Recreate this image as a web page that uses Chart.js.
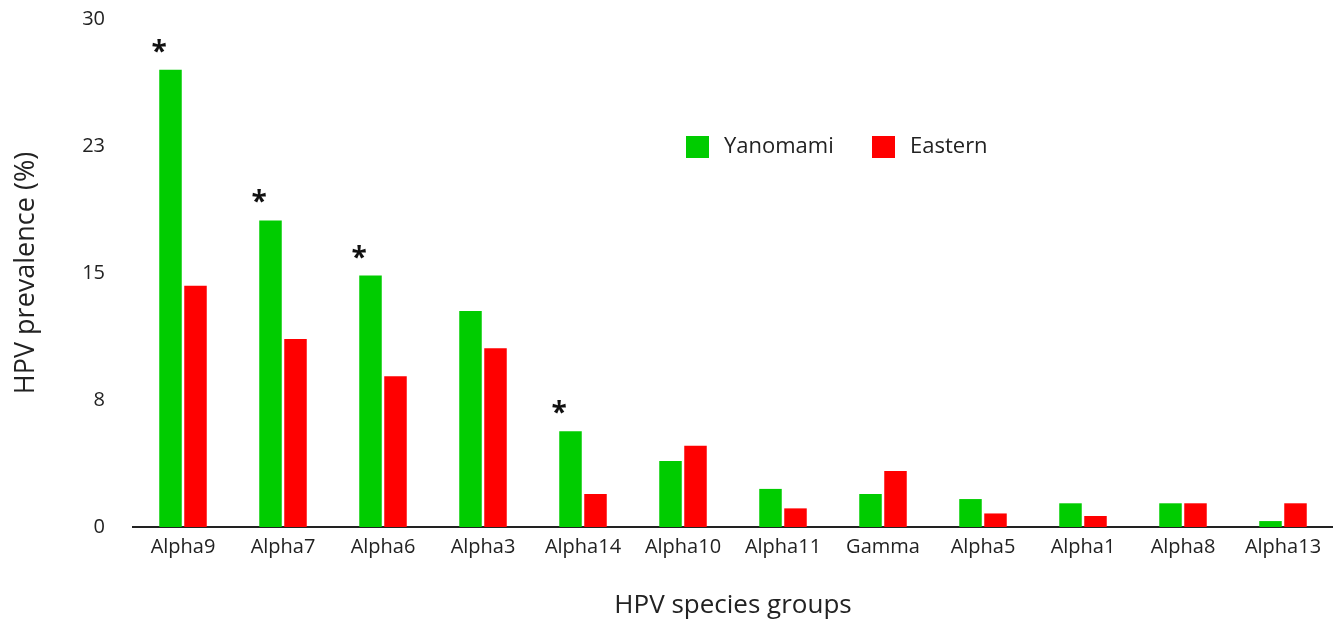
<!DOCTYPE html>
<html>
<head>
<meta charset="utf-8">
<script src="https://cdn.jsdelivr.net/npm/chart.js@4"></script>
<style>
  html, body { margin: 0; padding: 0; background: #fff; }
  #wrap { width: 1333px; height: 621px; }
</style>
</head>
<body>
<div id="wrap"><canvas id="chart" width="1333" height="621"></canvas></div>
<script>
const groups = ['Alpha9', 'Alpha7', 'Alpha6', 'Alpha3', 'Alpha14', 'Alpha10', 'Alpha11', 'Gamma', 'Alpha5', 'Alpha1', 'Alpha8', 'Alpha13'];
const yanomami = [27.0, 18.1, 14.85, 12.75, 5.65, 3.9, 2.25, 1.95, 1.65, 1.4, 1.4, 0.35];
const eastern = [14.25, 11.1, 8.9, 10.55, 1.95, 4.8, 1.1, 3.3, 0.8, 0.65, 1.4, 1.4];
const starred = ['Alpha9', 'Alpha7', 'Alpha6', 'Alpha14'];
const yTicks = [0, 7.5, 15, 22.5, 30];

const FONT = 'Open Sans';
const GREEN = 'rgb(0, 204, 0)';
const RED = 'rgb(255, 0, 0)';

// asterisks over significant groups + legend inside the plot
const extras = {
    id: 'extras',
    afterDatasetsDraw(chart) {
        const ctx = chart.ctx;
        const meta = chart.getDatasetMeta(0);
        ctx.save();
        ctx.fillStyle = '#111';
        ctx.font = 'bold 28px ' + FONT;
        ctx.textAlign = 'center';
        ctx.textBaseline = 'middle';
        starred.forEach(g => {
            const i = groups.indexOf(g);
            const bar = meta.data[i];
            ctx.fillText('*', bar.x - bar.width / 2, bar.y - 17);
        });

        // legend
        const items = [['Yanomami', GREEN, 686], ['Eastern', RED, 872]];
        ctx.font = '22px ' + FONT;
        ctx.textAlign = 'left';
        items.forEach(([label, color, x]) => {
            ctx.fillStyle = color;
            ctx.fillRect(x, 136, 23, 22);
            ctx.fillStyle = '#222';
            ctx.fillText(label, x + 38, 147);
        });
        ctx.restore();
    }
};

new Chart(document.getElementById('chart'), {
    type: 'bar',
    data: {
        labels: groups,
        datasets: [
            { label: 'Yanomami', data: yanomami, backgroundColor: GREEN },
            { label: 'Eastern', data: eastern, backgroundColor: RED }
        ]
    },
    options: {
        responsive: false,
        animation: false,
        layout: { padding: { top: 19, right: 0, left: 0, bottom: 0 } },
        datasets: {
            bar: { categoryPercentage: 0.5, barPercentage: 0.9 }
        },
        plugins: {
            legend: { display: false },
            tooltip: { enabled: false }
        },
        scales: {
            x: {
                grid: { display: false, drawTicks: false },
                border: { display: true, color: '#222', width: 2 },
                ticks: { color: '#222', font: { family: FONT, size: 20 }, padding: 8 },
                title: { display: true, text: 'HPV species groups', color: '#222', font: { family: FONT, size: 26 }, padding: { top: 4, bottom: 0 } },
                afterFit(scale) {
                    scale.height = 94;
                    scale.paddingLeft = 0;
                    scale.paddingRight = 0;
                }
            },
            y: {
                min: 0,
                max: 30,
                afterBuildTicks(scale) { scale.ticks = yTicks.map(v => ({ value: v })); },
                grid: { display: false, drawTicks: false },
                border: { display: false },
                ticks: {
                    color: '#222',
                    font: { family: FONT, size: 20 },
                    padding: 28,
                    callback: v => Math.round(v)
                },
                title: { display: true, text: 'HPV prevalence (%)', color: '#222', font: { family: FONT, size: 27 }, padding: { top: 10, bottom: 0 } },
                afterFit(scale) {
                    scale.width = 133;
                    scale.paddingTop = 0;
                    scale.paddingBottom = 0;
                }
            }
        }
    },
    plugins: [extras]
});
</script>
</body>
</html>
